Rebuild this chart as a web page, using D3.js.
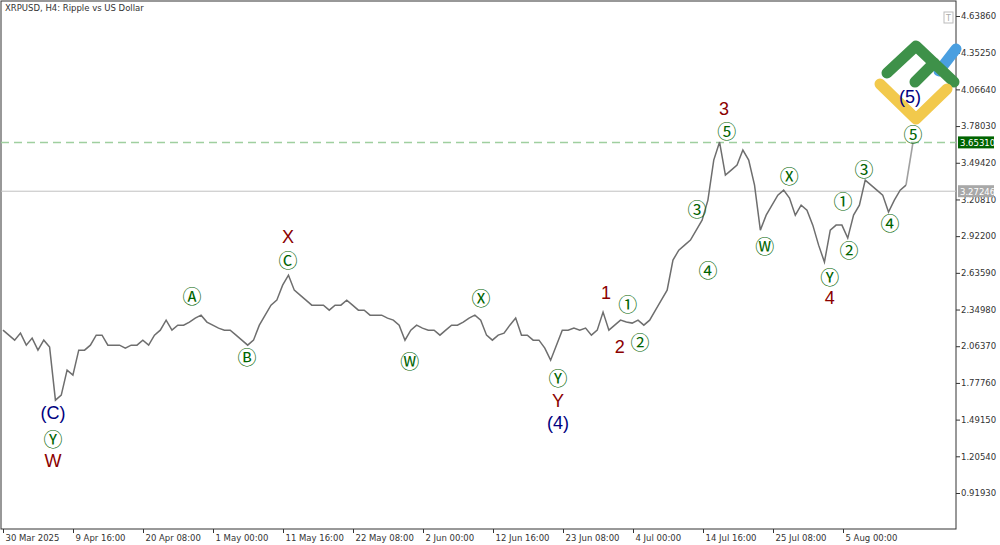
<!DOCTYPE html>
<html><head><meta charset="utf-8">
<script src="https://cdn.jsdelivr.net/npm/d3@7"></script>
<style>body{margin:0;background:#fff}svg{display:block}</style></head>
<body><svg id="c" width="1000" height="545"></svg>
<script>
const prices=[2.189,2.150,2.111,2.166,2.072,2.127,2.033,2.111,2.057,1.643,1.682,1.877,1.838,2.033,2.033,2.072,2.150,2.150,2.072,2.072,2.072,2.049,2.072,2.072,2.111,2.072,2.150,2.189,2.267,2.189,2.228,2.228,2.252,2.283,2.306,2.252,2.228,2.205,2.189,2.189,2.150,2.111,2.072,2.111,2.228,2.306,2.384,2.423,2.540,2.618,2.501,2.462,2.423,2.384,2.384,2.384,2.345,2.384,2.384,2.423,2.384,2.345,2.345,2.306,2.306,2.306,2.283,2.267,2.228,2.111,2.189,2.228,2.205,2.189,2.189,2.150,2.189,2.228,2.228,2.252,2.283,2.306,2.267,2.150,2.111,2.150,2.166,2.228,2.283,2.150,2.150,2.111,2.111,2.049,1.955,2.072,2.189,2.189,2.205,2.189,2.205,2.150,2.189,2.330,2.189,2.228,2.267,2.252,2.244,2.267,2.228,2.267,2.345,2.423,2.501,2.735,2.813,2.852,2.891,2.969,3.047,3.203,3.515,3.656,3.398,3.437,3.476,3.593,3.515,3.320,2.969,3.086,3.164,3.242,3.281,3.219,3.086,3.164,3.125,3.008,2.852,2.720,2.969,3.008,3.008,2.907,3.086,3.164,3.359,3.320,3.281,3.242,3.110,3.203,3.281,3.320];
const projection=[3.320,3.653];
const yTicks=[4.63860,4.35250,4.06640,3.78030,3.49420,3.20810,2.92200,2.63590,2.34980,2.06370,1.77760,1.49150,1.20540,0.91930];
const xTickLabels=["30 Mar 2025","9 Apr 16:00","20 Apr 08:00","1 May 00:00","11 May 16:00","22 May 08:00","2 Jun 00:00","12 Jun 16:00","23 Jun 08:00","4 Jul 00:00","14 Jul 16:00","25 Jul 08:00","5 Aug 00:00"];
const xTickDates=["2025-03-30T00:00","2025-04-09T16:00","2025-04-20T08:00","2025-05-01T00:00","2025-05-11T16:00","2025-05-22T08:00","2025-06-02T00:00","2025-06-12T16:00","2025-06-23T08:00","2025-07-04T00:00","2025-07-14T16:00","2025-07-25T08:00","2025-08-05T00:00"];
const levelTarget=3.65310, levelCurrent=3.27246;
const waves=[
["2025-04-06T15:00",1.542,"(C)","navy"],["2025-04-06T15:00",1.347,"Ⓨ","g"],["2025-04-06T15:00",1.168,"W","red"],
["2025-04-27T19:00",2.462,"Ⓐ","g"],["2025-05-06T04:00",1.987,"Ⓑ","g"],
["2025-05-12T10:00",2.915,"X","red"],["2025-05-12T10:00",2.743,"Ⓒ","g"],
["2025-05-31T00:00",1.955,"Ⓦ","g"],["2025-06-10T20:00",2.447,"Ⓧ","g"],
["2025-06-22T14:00",1.823,"Ⓨ","g"],["2025-06-22T14:00",1.636,"Y","red"],["2025-06-22T14:00",1.464,"(4)","navy"],
["2025-06-29T21:00",2.478,"1","red"],["2025-07-03T05:00",2.400,"①","g"],
["2025-07-02T00:00",2.057,"2","red"],["2025-07-05T02:00",2.104,"②","g"],
["2025-07-13T18:00",3.141,"③","g"],["2025-07-15T10:00",2.665,"④","g"],
["2025-07-17T21:00",3.910,"3","red"],["2025-07-18T07:00",3.742,"⑤","g"],
["2025-07-24T02:00",2.852,"Ⓦ","g"],["2025-07-27T19:00",3.398,"Ⓧ","g"],
["2025-08-05T00:00",3.203,"①","g"],["2025-08-03T00:00",2.611,"Ⓨ","g"],["2025-08-03T00:00",2.439,"4","red"],
["2025-08-05T22:00",2.821,"②","g"],["2025-08-08T05:00",3.453,"③","g"],["2025-08-12T04:00",3.032,"④","g"],
["2025-08-15T16:00",3.726,"⑤","g"],["2025-08-15T05:00",4.007,"(5)","navy"]];

const svg=d3.select("#c");
const L=1,R=956,T=1,B=529;
const y=d3.scaleLinear().domain([0.91930,4.63860]).range([493,16]);
const t0=new Date("2025-03-30T00:00");
const hpp=256/70;
const xt=d3.scaleTime().domain([t0,new Date(+t0+ (R-3)*hpp*3600e3)]).range([3,R]);
const xi=d3.scaleLinear().domain([0,prices.length-1]).range([3,906]);

svg.append("rect").attr("x",L).attr("y",T).attr("width",R-L).attr("height",B-T).attr("fill","#fff").attr("stroke","#333");
svg.append("line").attr("x1",L).attr("x2",R).attr("y1",y(levelCurrent)).attr("y2",y(levelCurrent)).attr("stroke","#c0c0c0");
svg.append("line").attr("x1",L).attr("x2",R).attr("y1",y(levelTarget)).attr("y2",y(levelTarget)).attr("stroke","#9fcf9f").attr("stroke-width",1.5).attr("stroke-dasharray","8,5");
svg.append("path").datum(prices).attr("fill","none").attr("stroke","#6e6e6e").attr("stroke-width",1.5)
 .attr("d",d3.line().x((d,i)=>xi(i)).y(d=>y(d)));
svg.append("path").datum(projection).attr("fill","none").attr("stroke","#a0a0a0").attr("stroke-width",1.6)
 .attr("d",d3.line().x((d,i)=>i?913:906).y(d=>y(d)));
const ya=d3.axisRight(y).tickValues(yTicks).tickSize(4).tickFormat(d3.format(".5f"));
const g=svg.append("g").attr("transform",`translate(${R},0)`).call(ya);
g.select(".domain").remove();
g.selectAll("text").attr("font-family","DejaVu Sans").attr("font-size",8.5).attr("fill","#333").attr("x",5);
g.selectAll("line").attr("stroke","#333");
function tag(v,bg){const yy=y(v);
 svg.append("rect").attr("x",R+2).attr("y",yy-6).attr("width",36).attr("height",12).attr("fill",bg);
 svg.append("text").attr("x",R+4).attr("y",yy+4).attr("font-family","DejaVu Sans").attr("font-size",8.5).attr("fill","#fff").text(v.toFixed(5));}
tag(levelTarget,"#006400");tag(levelCurrent,"#a8a8a8");
const xa=d3.axisBottom(xt).tickValues(xTickDates.map(d=>new Date(d))).tickSize(4).tickFormat((d,i)=>xTickLabels[i]);
const gx=svg.append("g").attr("transform",`translate(0,${B})`).call(xa);
gx.select(".domain").remove();
gx.selectAll("text").attr("font-family","DejaVu Sans").attr("font-size",8.5).attr("fill","#333").attr("text-anchor","start").attr("x",2).attr("dy","0.6em");
gx.selectAll("line").attr("stroke","#333");
svg.append("text").attr("x",5).attr("y",11).attr("font-family","DejaVu Sans").attr("font-size",8.5).attr("fill","#333").text("XRPUSD, H4:  Ripple vs US Dollar");
svg.append("rect").attr("x",944).attr("y",12).attr("width",9).attr("height",11).attr("fill","#fff").attr("stroke","#bbb");
svg.append("text").attr("x",948.5).attr("y",21).attr("text-anchor","middle").attr("font-size",8).attr("font-family","DejaVu Sans").attr("fill","#aaa").text("T");
const lg=svg.append("g").attr("fill","none").attr("stroke-linecap","round").attr("stroke-linejoin","round").attr("stroke-width",11);
lg.append("path").attr("d","M939,71 L956,49").attr("stroke","#4a9fe0");
lg.append("path").attr("d","M887,73 L916,46 L954,82").attr("stroke","#3e9149");
lg.append("path").attr("d","M915,82 L934,63").attr("stroke","#3e9149");
lg.append("path").attr("d","M880,84 L916,119 L947,89").attr("stroke","#f2c94c");
const col={g:"#006400",red:"#8b0000",navy:"#000080"};
svg.selectAll("text.w").data(waves).join("text").attr("class","w")
 .attr("x",d=>xt(new Date(d[0]))).attr("y",d=>y(d[1]))
 .attr("text-anchor","middle").attr("dominant-baseline","central")
 .attr("font-family",d=>d[3]=="g"?"'Noto Sans CJK JP'":"Liberation Sans")
 .attr("font-size",d=>d[3]=="g"?19:18).attr("fill",d=>col[d[3]]).text(d=>d[2]);
</script></body></html>
